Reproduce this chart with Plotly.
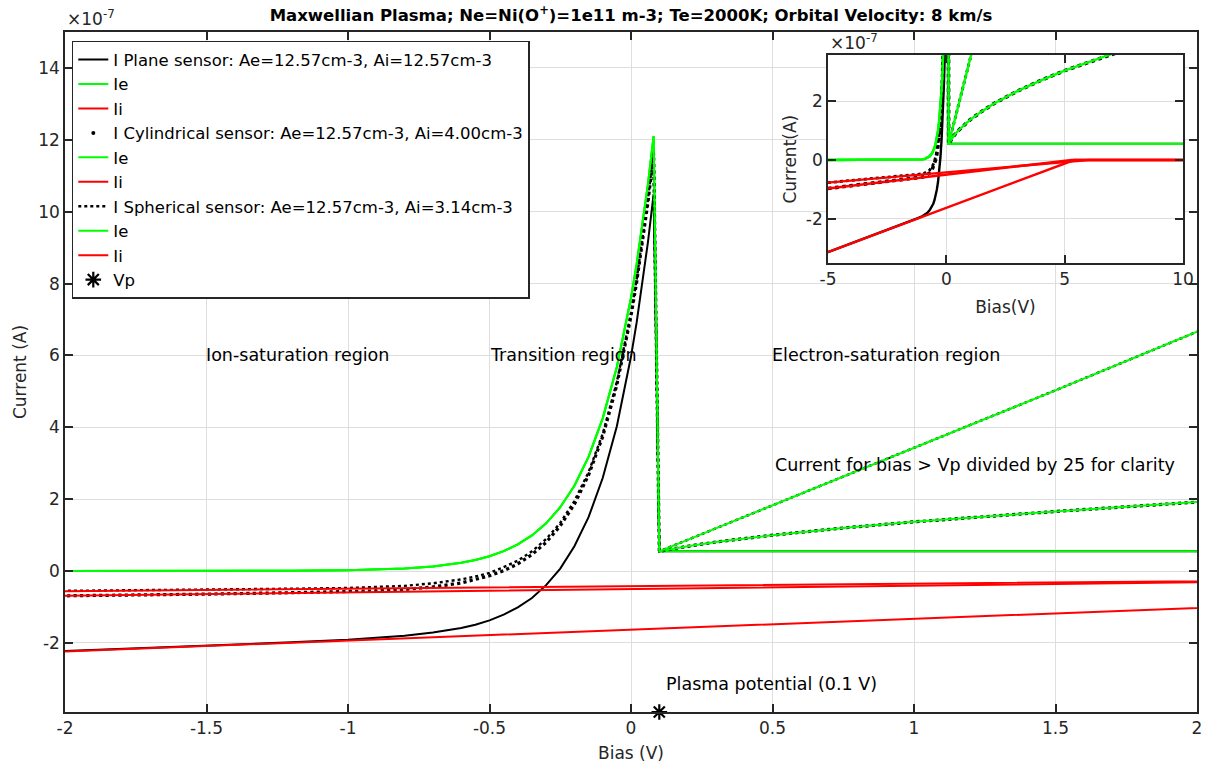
import plotly.graph_objects as go

# ---------------------------------------------------------------------------
# Langmuir probe I-V characteristics (currents in units of 1e-7 A).
# Above the plasma potential the electron currents are divided by 25.
# ---------------------------------------------------------------------------

# Bias sweep (V) shared by the total and electron currents
bias = [-5, -4, -3, -2, -1.5, -1.2, -1.0, -0.9, -0.8, -0.7, -0.6,
        -0.55, -0.5, -0.45, -0.4, -0.35, -0.3, -0.25, -0.2, -0.15, -0.1, -0.05,
        0, 0.02, 0.04, 0.06, 0.08,
        0.1, 0.2, 0.3, 0.5, 0.75, 1, 1.5, 2, 3, 4, 5, 6, 7, 8, 10]

# Electron retarding region (same for all three geometries), bias <= Vp
ie_retarding = [0, 0, 0, 0, 0.001, 0.007, 0.023, 0.04, 0.072, 0.13, 0.232,
                0.31, 0.415, 0.556, 0.743, 0.993, 1.33, 1.777, 2.375, 3.18, 4.25, 5.68,
                7.6, 8.54, 9.59, 10.77, 12.1]

# Electron saturation region (divided by 25), bias >= Vp
ie_sat_plane = [0.55, 0.55, 0.55, 0.55, 0.55, 0.55, 0.55, 0.55, 0.55, 0.55,
                0.55, 0.55, 0.55, 0.55, 0.55]
ie_sat_cyl = [0.55, 0.69, 0.81, 1.00, 1.20, 1.37, 1.66, 1.92, 2.35, 2.72,
              3.05, 3.34, 3.62, 3.88, 4.35]
ie_sat_sph = [0.55, 0.87, 1.19, 1.83, 2.63, 3.43, 5.03, 6.66, 9.85, 13.05,
              16.25, 19.45, 22.65, 25.85, 32.25]

# Total probe current below Vp
i_plane_retarding = [-3.14, -2.84, -2.54, -2.23, -2.08, -1.98, -1.91, -1.86, -1.80, -1.71, -1.58,
                     -1.49, -1.37, -1.21, -1.01, -0.75, -0.39, 0.07, 0.69, 1.50, 2.59, 4.03,
                     5.97, 6.92, 7.97, 9.16, 10.49]
i_cyl_retarding = [-0.97, -0.88, -0.78, -0.69, -0.64, -0.60, -0.58, -0.55, -0.51, -0.44, -0.33,
                   -0.24, -0.13, 0.01, 0.20, 0.46, 0.80, 1.26, 1.86, 2.67, 3.74, 5.18,
                   7.10, 8.04, 9.09, 10.27, 11.61]
i_sph_retarding = [-0.77, -0.70, -0.63, -0.56, -0.53, -0.49, -0.47, -0.44, -0.41, -0.34, -0.23,
                   -0.15, -0.05, 0.11, 0.29, 0.55, 0.89, 1.34, 1.95, 2.75, 3.82, 5.26,
                   7.18, 8.12, 9.17, 10.35, 11.69]

# Ion (ram) currents
ii_bias_plane = [-5, 5.4, 10]
ii_plane = [-3.14, 0, 0]
ii_bias_cyl = [-5, 5.3, 10]
ii_cyl = [-0.97, 0, 0]
ii_bias_sph = [-5, 6.0, 10]
ii_sph = [-0.77, 0, 0]

# Plasma potential marker
vp_bias = [0.1]
vp_current = [-3.92]

# Tick labels
main_x_ticks = [-2, -1.5, -1, -0.5, 0, 0.5, 1, 1.5, 2]
main_x_labels = ["-2", "-1.5", "-1", "-0.5", "0", "0.5", "1", "1.5", "2"]
main_y_ticks = [-2, 0, 2, 4, 6, 8, 10, 12, 14]
main_y_labels = ["-2", "0", "2", "4", "6", "8", "10", "12", "14"]
inset_x_ticks = [-5, 0, 5, 10]
inset_x_labels = ["-5", "0", "5", "10"]
inset_y_ticks = [-2, 0, 2]
inset_y_labels = ["-2", "0", "2"]

# Full curves: retarding part followed by saturation part
ie_plane = ie_retarding + ie_sat_plane
ie_cyl = ie_retarding + ie_sat_cyl
ie_sph = ie_retarding + ie_sat_sph
i_plane = i_plane_retarding + ie_sat_plane
i_cyl = i_cyl_retarding + ie_sat_cyl
i_sph = i_sph_retarding + ie_sat_sph

GREEN = "#00ff00"
RED = "#ff0000"
BLACK = "#000000"
AX = "#262626"
FONT = "DejaVu Sans, Liberation Sans, Arial, sans-serif"

fig = go.Figure()


def add_curve(x, y, name, color, dash="solid", width=2.0, legend=True):
    fig.add_trace(go.Scatter(x=x, y=y, mode="lines", name=name, showlegend=legend,
                             line=dict(color=color, width=width, dash=dash),
                             xaxis="x", yaxis="y"))
    fig.add_trace(go.Scatter(x=x, y=y, mode="lines", name=name, showlegend=False,
                             line=dict(color=color, width=width + 0.4, dash=dash),
                             xaxis="x2", yaxis="y2"))


# Plane sensor
add_curve(bias, i_plane, "I Plane sensor: Ae=12.57cm-3, Ai=12.57cm-3", BLACK)
add_curve(bias, ie_plane, "Ie", GREEN)
add_curve(ii_bias_plane, ii_plane, "Ii", RED)

# Cylindrical sensor (dotted markers)
fig.add_trace(go.Scatter(x=[None], y=[None], mode="markers",
                         name="I Cylindrical sensor: Ae=12.57cm-3, Ai=4.00cm-3",
                         marker=dict(color=BLACK, size=4), xaxis="x", yaxis="y"))
add_curve(bias, i_cyl, "I Cylindrical sensor", BLACK, dash="dot", width=3.2, legend=False)
add_curve(bias, ie_cyl, "Ie", GREEN)
add_curve(ii_bias_cyl, ii_cyl, "Ii", RED)

# Spherical sensor
add_curve(bias, i_sph, "I Spherical sensor: Ae=12.57cm-3, Ai=3.14cm-3", BLACK, dash="dot", width=2.4)
add_curve(bias, ie_sph, "Ie", GREEN)
add_curve(ii_bias_sph, ii_sph, "Ii", RED)

# Plasma potential
fig.add_trace(go.Scatter(x=vp_bias, y=vp_current, mode="markers", name="Vp",
                         marker=dict(symbol="asterisk-open", size=13, color=BLACK,
                                     line=dict(color=BLACK, width=2.2)),
                         cliponaxis=False, xaxis="x", yaxis="y"))

axis_common = dict(showline=True, linecolor=AX, linewidth=1.5, mirror="ticks",
                   ticks="inside", ticklen=8, tickwidth=1.5, tickcolor=AX,
                   showgrid=True, gridcolor="#dedede", gridwidth=1.2, zeroline=False,
                   tickfont=dict(family=FONT, size=17, color=AX))
label_font = dict(family=FONT, size=17, color=AX)

fig.update_layout(
    width=1207, height=769,
    margin=dict(l=65, r=10, t=32, b=57, autoexpand=False),
    paper_bgcolor="white", plot_bgcolor="white",
    font=dict(family=FONT, color=AX),
    title=dict(text="<b>Maxwellian Plasma; Ne=Ni(O<sup>+</sup>)=1e11 m-3; Te=2000K; Orbital Velocity: 8 km/s</b>",
               x=0.5, xref="paper", xanchor="center", y=1 - 15 / 769, yref="container",
               yanchor="middle", font=dict(family=FONT, size=16.5, color=BLACK)),
    xaxis=dict(domain=[0, 1], range=[-2, 2], tickvals=main_x_ticks, ticktext=main_x_labels,
               title=dict(text="Bias (V)", standoff=10, font=label_font),
               anchor="y", **axis_common),
    yaxis=dict(domain=[0, 1], range=[-3.92, 15], tickvals=main_y_ticks, ticktext=main_y_labels,
               title=dict(text="Current (A)", standoff=7, font=label_font),
               anchor="x", **axis_common),
    xaxis2=dict(domain=[0.674, 0.9876], range=[-5, 10], tickvals=inset_x_ticks, ticktext=inset_x_labels,
                title=dict(text="Bias(V)", standoff=13, font=label_font),
                anchor="y2", **axis_common),
    yaxis2=dict(domain=[0.660, 0.966], range=[-3.52, 3.58], tickvals=inset_y_ticks, ticktext=inset_y_labels,
                title=dict(text="Current(A)", standoff=5, font=label_font),
                anchor="x2", **axis_common),
    legend=dict(x=0.006, y=0.987, xanchor="left", yanchor="top", xref="paper", yref="paper",
                bgcolor="white", bordercolor=AX, borderwidth=1.5, itemwidth=30,
                tracegroupgap=0, font=dict(family=FONT, size=16.5, color=BLACK)),
    showlegend=True,
)

# White backing for the inset axes
fig.add_shape(type="rect", xref="x2 domain", yref="y2 domain", x0=0, x1=1, y0=0, y1=1,
              fillcolor="white", line=dict(width=0), layer="below")

ann_font = dict(family=FONT, size=17.5, color=BLACK)
annotations = [
    dict(text="×10<sup>-7</sup>", xref="paper", yref="paper", x=0, y=1, xanchor="left",
         yanchor="bottom", yshift=1, showarrow=False, font=dict(family=FONT, size=17, color=AX)),
    dict(text="×10<sup>-7</sup>", xref="x2 domain", yref="y2 domain", x=0, y=1, xanchor="left",
         yanchor="bottom", yshift=0, showarrow=False, font=dict(family=FONT, size=17, color=AX)),
    dict(text="Ion-saturation region", x=-1.18, y=6.0, xref="x", yref="y", showarrow=False, font=ann_font),
    dict(text="Transition region", x=-0.24, y=6.0, xref="x", yref="y", showarrow=False, font=ann_font),
    dict(text="Electron-saturation region", x=0.9, y=6.0, xref="x", yref="y", showarrow=False, font=ann_font),
    dict(text="Current for bias > Vp divided by 25 for clarity", x=0.5, y=2.95, xref="x", yref="y",
         xanchor="left", showarrow=False, font=ann_font),
    dict(text="Plasma potential (0.1 V)", x=0.117, y=-3.14, xref="x", yref="y",
         xanchor="left", showarrow=False, font=ann_font),
]
fig.update_layout(annotations=annotations)

fig.write_html("out.html")
